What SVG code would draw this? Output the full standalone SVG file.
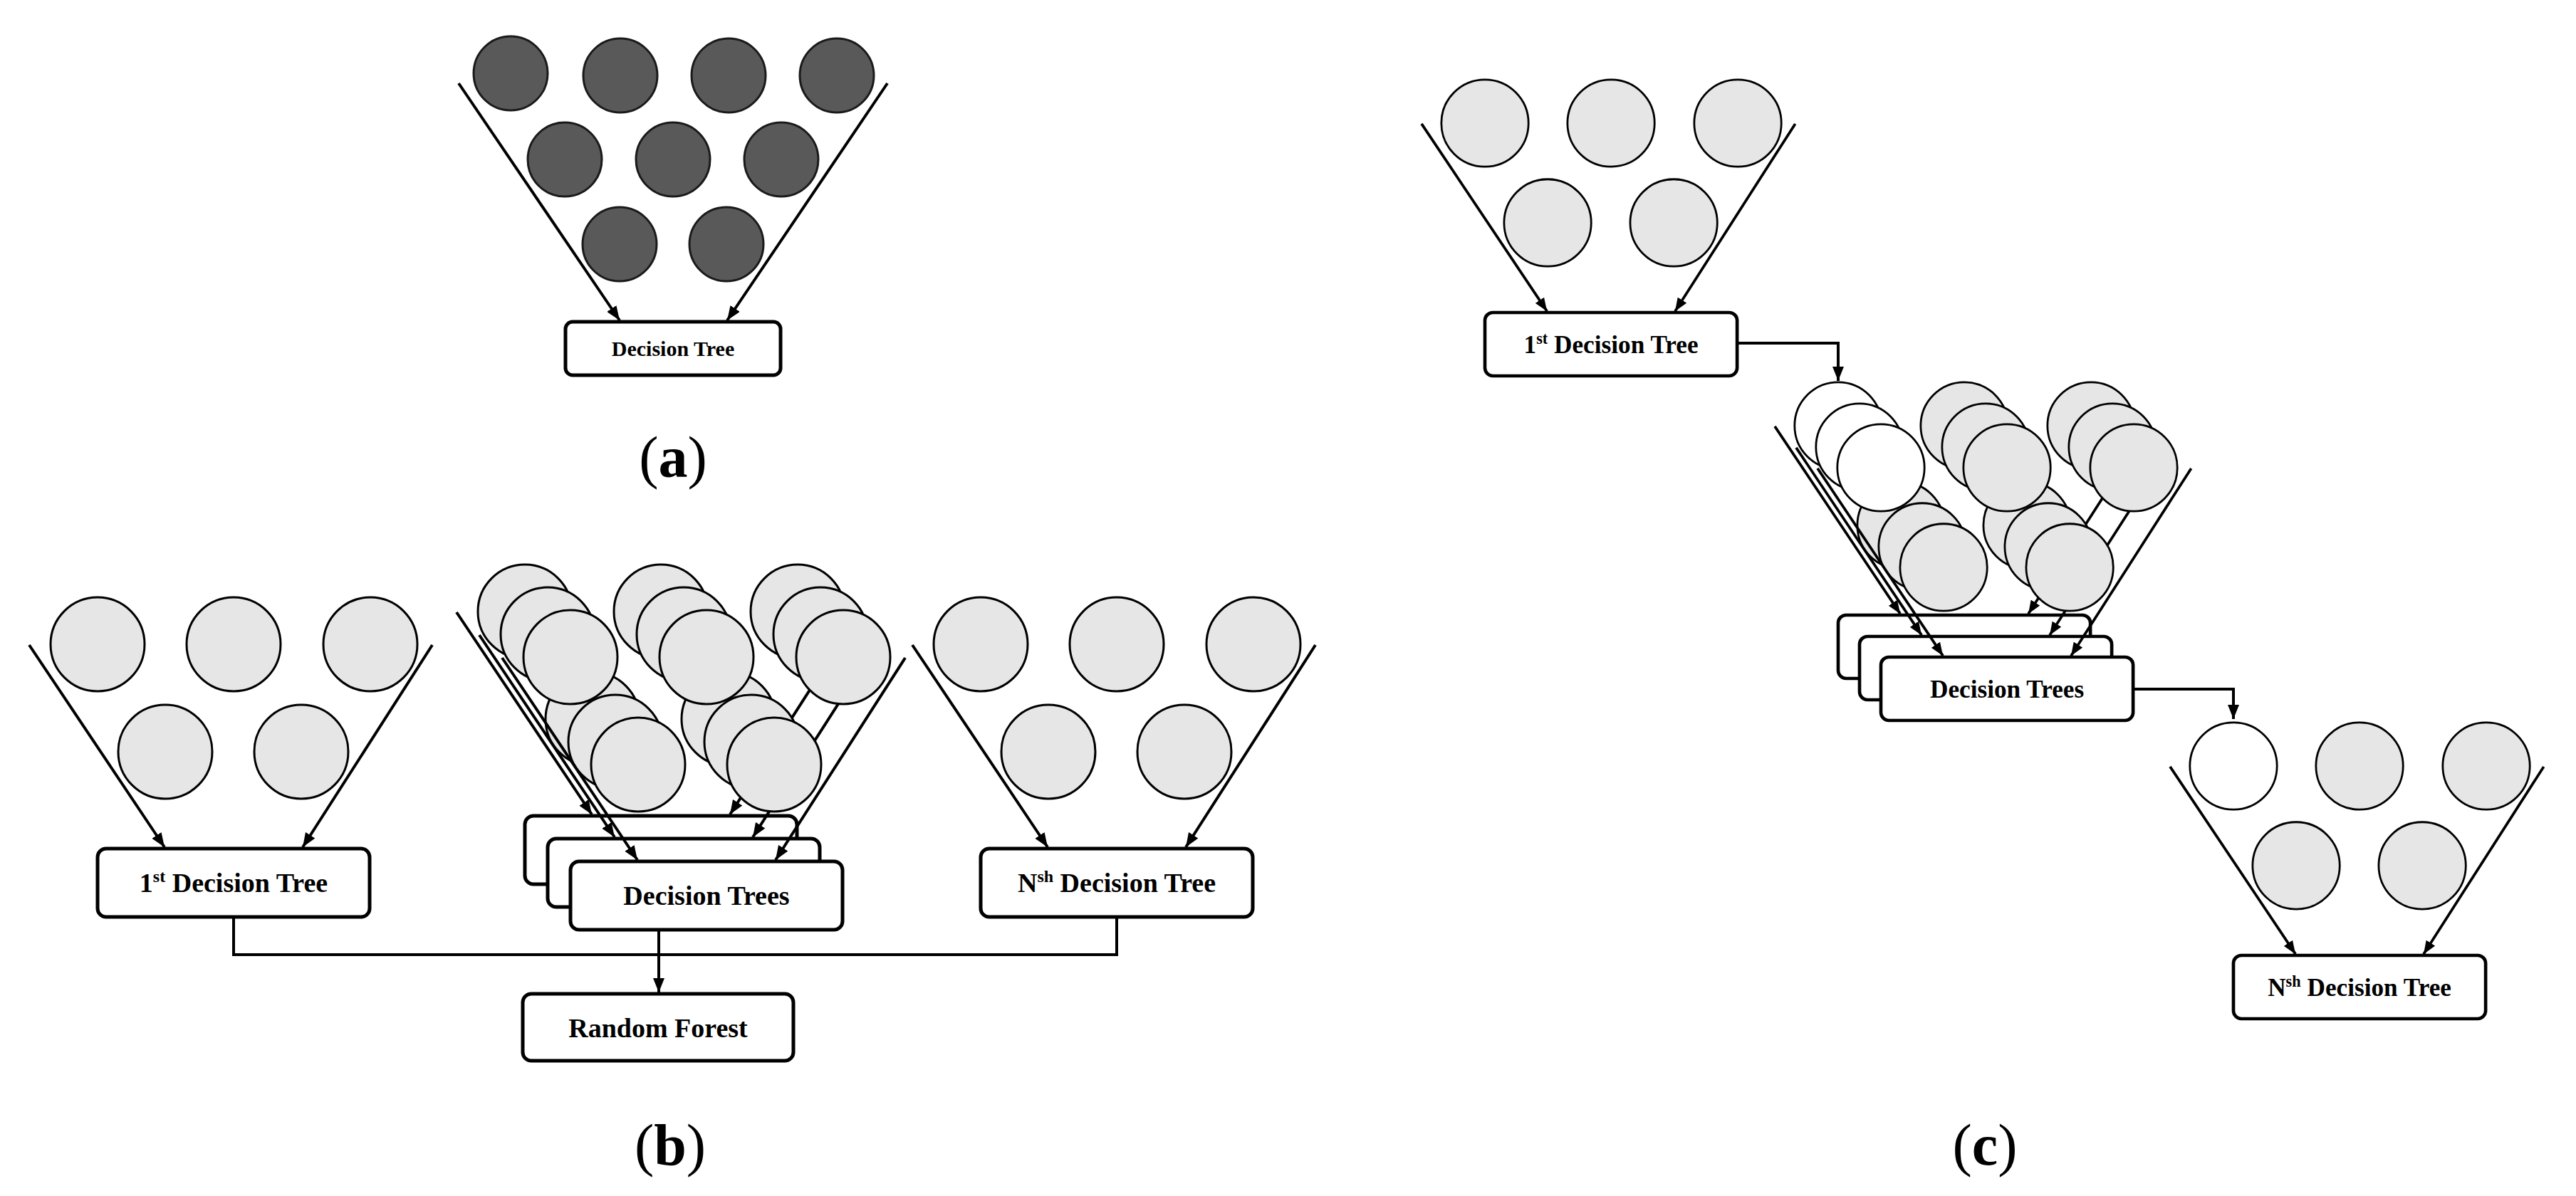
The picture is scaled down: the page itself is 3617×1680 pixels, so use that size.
<svg xmlns="http://www.w3.org/2000/svg" width="3617" height="1680" viewBox="0 0 3617 1680">
<style>
.c{fill:#e6e6e6;stroke:#000;stroke-width:3}
.w{fill:#fff;stroke:#000;stroke-width:3}
.d{fill:#595959;stroke:#1a1a1a;stroke-width:3}
.ln{stroke:#000;stroke-width:4;fill:none}
.bx{fill:#fff;stroke:#000;stroke-width:5}
.t{font-family:"Liberation Serif",serif;font-weight:bold;font-size:38px;text-anchor:middle}
.lab{font-family:"Liberation Serif",serif;font-size:82px;text-anchor:middle}
</style>
<defs>
<marker id="ar" markerUnits="userSpaceOnUse" markerWidth="20" markerHeight="16" refX="20" refY="8" orient="auto">
<path d="M0,0 L20,8 L0,16 z" fill="#000"/>
</marker>
</defs>
<rect width="3617" height="1680" fill="#fff"/>

<!-- panel a -->
<g id="a-tree">
<line class="ln" x1="644" y1="117" x2="870" y2="450" marker-end="url(#ar)"/>
<line class="ln" x1="1246" y1="117" x2="1021" y2="450" marker-end="url(#ar)"/>
<circle class="d" cx="717" cy="103" r="52"/><circle class="d" cx="871" cy="106" r="52"/><circle class="d" cx="1023" cy="106" r="52"/><circle class="d" cx="1175" cy="106" r="52"/>
<circle class="d" cx="793" cy="224" r="52"/><circle class="d" cx="945" cy="224" r="52"/><circle class="d" cx="1097" cy="224" r="52"/>
<circle class="d" cx="870" cy="343" r="52"/><circle class="d" cx="1020" cy="343" r="52"/>
<rect class="bx" x="794" y="452" width="302" height="75" rx="10"/>
<text class="t" x="945" y="500" style="font-size:30px">Decision Tree</text>
</g>
<text class="lab" x="945" y="670">(<tspan font-weight="bold">a</tspan>)</text>

<!-- panel b -->
<g id="b-first" transform="translate(137,1192)">
<line class="ln" x1="-96" y1="-286" x2="94" y2="-2" marker-end="url(#ar)"/>
<line class="ln" x1="470" y1="-286" x2="288" y2="-2" marker-end="url(#ar)"/>
<circle class="c" cx="0" cy="-287" r="66"/><circle class="c" cx="191" cy="-287" r="66"/><circle class="c" cx="383" cy="-287" r="66"/>
<circle class="c" cx="95" cy="-136" r="66"/><circle class="c" cx="286" cy="-136" r="66"/>
<rect class="bx" x="0" y="0" width="382" height="96" rx="12"/>
<text class="t" x="191" y="61">1<tspan font-size="24" dy="-14">st</tspan><tspan dy="14"> Decision Tree</tspan></text>
</g>
<g id="b-stack">
<g transform="translate(737,1146)">
<line class="ln" x1="-96" y1="-286" x2="94" y2="-2" marker-end="url(#ar)"/>
<line class="ln" x1="470" y1="-286" x2="288" y2="-2" marker-end="url(#ar)"/>
<circle class="c" cx="0" cy="-287" r="66"/><circle class="c" cx="191" cy="-287" r="66"/><circle class="c" cx="383" cy="-287" r="66"/>
<circle class="c" cx="95" cy="-136" r="66"/><circle class="c" cx="286" cy="-136" r="66"/>
<rect class="bx" x="0" y="0" width="382" height="96" rx="12"/>
</g>
<g transform="translate(769,1178)">
<line class="ln" x1="-96" y1="-286" x2="94" y2="-2" marker-end="url(#ar)"/>
<line class="ln" x1="470" y1="-286" x2="288" y2="-2" marker-end="url(#ar)"/>
<circle class="c" cx="0" cy="-287" r="66"/><circle class="c" cx="191" cy="-287" r="66"/><circle class="c" cx="383" cy="-287" r="66"/>
<circle class="c" cx="95" cy="-136" r="66"/><circle class="c" cx="286" cy="-136" r="66"/>
<rect class="bx" x="0" y="0" width="382" height="96" rx="12"/>
</g>
<g transform="translate(801,1210)">
<line class="ln" x1="-96" y1="-286" x2="94" y2="-2" marker-end="url(#ar)"/>
<line class="ln" x1="470" y1="-286" x2="288" y2="-2" marker-end="url(#ar)"/>
<circle class="c" cx="0" cy="-287" r="66"/><circle class="c" cx="191" cy="-287" r="66"/><circle class="c" cx="383" cy="-287" r="66"/>
<circle class="c" cx="95" cy="-136" r="66"/><circle class="c" cx="286" cy="-136" r="66"/>
<rect class="bx" x="0" y="0" width="382" height="96" rx="12"/>
<text class="t" x="191" y="61">Decision Trees</text>
</g>
</g>
<g id="b-nth" transform="translate(1377,1192)">
<line class="ln" x1="-96" y1="-286" x2="94" y2="-2" marker-end="url(#ar)"/>
<line class="ln" x1="470" y1="-286" x2="288" y2="-2" marker-end="url(#ar)"/>
<circle class="c" cx="0" cy="-287" r="66"/><circle class="c" cx="191" cy="-287" r="66"/><circle class="c" cx="383" cy="-287" r="66"/>
<circle class="c" cx="95" cy="-136" r="66"/><circle class="c" cx="286" cy="-136" r="66"/>
<rect class="bx" x="0" y="0" width="382" height="96" rx="12"/>
<text class="t" x="191" y="61">N<tspan font-size="24" dy="-14">sh</tspan><tspan dy="14"> Decision Tree</tspan></text>
</g>
<g id="b-forest">
<rect class="bx" x="734" y="1396" width="380" height="94" rx="12"/>
<text class="t" x="924" y="1457">Random Forest</text>
</g>
<text class="lab" x="941" y="1636">(<tspan font-weight="bold">b</tspan>)</text>

<!-- panel c -->
<g id="c-first" transform="translate(2085,439) scale(0.927)">
<line class="ln" x1="-96" y1="-286" x2="94" y2="-2" marker-end="url(#ar)"/>
<line class="ln" x1="470" y1="-286" x2="288" y2="-2" marker-end="url(#ar)"/>
<circle class="c" cx="0" cy="-287" r="66"/><circle class="c" cx="191" cy="-287" r="66"/><circle class="c" cx="383" cy="-287" r="66"/>
<circle class="c" cx="95" cy="-136" r="66"/><circle class="c" cx="286" cy="-136" r="66"/>
<rect class="bx" x="0" y="0" width="382" height="96" rx="12"/>
<text class="t" x="191" y="61">1<tspan font-size="24" dy="-14">st</tspan><tspan dy="14"> Decision Tree</tspan></text>
</g>
<g id="c-stack">
<g transform="translate(2581,864) scale(0.927)">
<line class="ln" x1="-96" y1="-286" x2="94" y2="-2" marker-end="url(#ar)"/>
<line class="ln" x1="470" y1="-286" x2="288" y2="-2" marker-end="url(#ar)"/>
<circle class="w" cx="0" cy="-287" r="66"/><circle class="c" cx="191" cy="-287" r="66"/><circle class="c" cx="383" cy="-287" r="66"/>
<circle class="c" cx="95" cy="-136" r="66"/><circle class="c" cx="286" cy="-136" r="66"/>
<rect class="bx" x="0" y="0" width="382" height="96" rx="12"/>
</g>
<g transform="translate(2611,894) scale(0.927)">
<line class="ln" x1="-96" y1="-286" x2="94" y2="-2" marker-end="url(#ar)"/>
<line class="ln" x1="470" y1="-286" x2="288" y2="-2" marker-end="url(#ar)"/>
<circle class="w" cx="0" cy="-287" r="66"/><circle class="c" cx="191" cy="-287" r="66"/><circle class="c" cx="383" cy="-287" r="66"/>
<circle class="c" cx="95" cy="-136" r="66"/><circle class="c" cx="286" cy="-136" r="66"/>
<rect class="bx" x="0" y="0" width="382" height="96" rx="12"/>
</g>
<g transform="translate(2641,923) scale(0.927)">
<line class="ln" x1="-96" y1="-286" x2="94" y2="-2" marker-end="url(#ar)"/>
<line class="ln" x1="470" y1="-286" x2="288" y2="-2" marker-end="url(#ar)"/>
<circle class="w" cx="0" cy="-287" r="66"/><circle class="c" cx="191" cy="-287" r="66"/><circle class="c" cx="383" cy="-287" r="66"/>
<circle class="c" cx="95" cy="-136" r="66"/><circle class="c" cx="286" cy="-136" r="66"/>
<rect class="bx" x="0" y="0" width="382" height="96" rx="12"/>
<text class="t" x="191" y="61">Decision Trees</text>
</g>
</g>
<g id="c-nth" transform="translate(3136,1342) scale(0.927)">
<line class="ln" x1="-96" y1="-286" x2="94" y2="-2" marker-end="url(#ar)"/>
<line class="ln" x1="470" y1="-286" x2="288" y2="-2" marker-end="url(#ar)"/>
<circle class="w" cx="0" cy="-287" r="66"/><circle class="c" cx="191" cy="-287" r="66"/><circle class="c" cx="383" cy="-287" r="66"/>
<circle class="c" cx="95" cy="-136" r="66"/><circle class="c" cx="286" cy="-136" r="66"/>
<rect class="bx" x="0" y="0" width="382" height="96" rx="12"/>
<text class="t" x="191" y="61">N<tspan font-size="24" dy="-14">sh</tspan><tspan dy="14"> Decision Tree</tspan></text>
</g>
<text class="lab" x="2787" y="1636">(<tspan font-weight="bold">c</tspan>)</text>

<g id="connectors">
<polyline class="ln" points="328,1288 328,1341 1568,1341 1568,1288"/>
<line class="ln" x1="925" y1="1306" x2="925" y2="1394" marker-end="url(#ar)"/>
<polyline class="ln" points="2441,482 2581,482 2581,535" marker-end="url(#ar)"/>
<polyline class="ln" points="2997,968 3136,968 3136,1010" marker-end="url(#ar)"/>
</g>
</svg>
